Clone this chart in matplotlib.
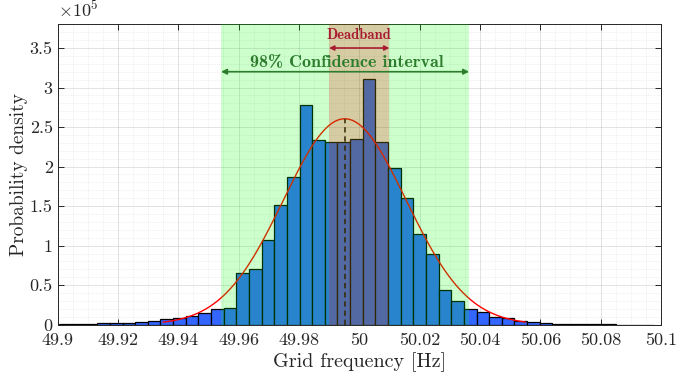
#!/usr/bin/env python3

from matplotlib import pyplot as plt
from matplotlib.ticker import FuncFormatter, MultipleLocator, NullFormatter
import numpy as np
import matplotlib


# Histogram of grid frequency (probability density, bins of equal width)
bin_start = 49.9006
bin_width = 0.00419
density = np.array([
    0.003, 0.005, 0.008, 0.020, 0.017, 0.021, 0.034, 0.047, 0.072, 0.081,
    0.110, 0.150, 0.200, 0.205, 0.651, 0.705, 1.069, 1.512, 1.874, 2.778,
    2.330, 2.305, 2.305, 2.347, 3.110, 2.305, 1.984, 1.604, 1.152, 0.895,
    0.443, 0.304, 0.203, 0.165, 0.100, 0.080, 0.047, 0.034, 0.025, 0.013,
    0.009, 0.006, 0.004, 0.003, 0.002, 0.002, 0.001,
]) * 1e5

# Normal fit
fit_mean = 49.9952
fit_std = 0.0203
fit_peak = 2.605e5
fit_range = (49.935, 50.055)

# Intervals
conf_int = (49.9542, 50.0364)
deadband = (49.990, 50.010)


def setup():
    matplotlib.rcParams.update({
        "font.family": "serif",
        "font.serif": ["cmr10"],
        "mathtext.fontset": "cm",
        "axes.unicode_minus": False,
        "axes.formatter.use_mathtext": True,
    })


def main():
    setup()
    fig = plt.figure(figsize=(6.8, 3.79), dpi=100)
    ax = fig.add_axes([0.0846, 0.1433, 0.8874, 0.7926])

    edges = bin_start + bin_width * np.arange(len(density))
    ax.bar(edges, density, width=bin_width, align="edge",
           color=(0.2, 0.4, 1.0), edgecolor="black", linewidth=0.9,
           zorder=1)

    xs = np.linspace(fit_range[0], fit_range[1], 300)
    ys = fit_peak * np.exp(-0.5 * ((xs - fit_mean) / fit_std) ** 2)
    ax.plot(xs, ys, color="red", lw=1.0, zorder=2)
    ax.plot([fit_mean, fit_mean], [0, fit_peak], color="black", lw=1.1,
            ls=(0, (3.5, 2.5)), zorder=2)

    ax.axvspan(*conf_int, color=(0, 1, 0), alpha=0.2, lw=0, zorder=3)
    ax.axvspan(*deadband, color=(1, 0, 0), alpha=0.2, lw=0, zorder=3)

    green = "#2E7D2E"
    crimson = "#A81C32"
    ax.annotate("", xy=(conf_int[0], 3.2e5), xytext=(conf_int[1], 3.2e5),
                arrowprops=dict(arrowstyle="<|-|>", color=green, lw=1.2,
                                mutation_scale=8, shrinkA=0, shrinkB=0),
                zorder=5)
    ax.text(sum(conf_int) / 2 + 0.0005, 3.32e5, "98% Confidence interval",
            family="cmb10", size=13, color=green, ha="center",
            va="center", zorder=5)
    ax.annotate("", xy=(deadband[0], 3.5e5), xytext=(deadband[1], 3.5e5),
                arrowprops=dict(arrowstyle="<|-|>", color=crimson, lw=1.2,
                                mutation_scale=7, shrinkA=0, shrinkB=0),
                zorder=5)
    ax.text(sum(deadband) / 2, 3.66e5, "Deadband", family="cmb10",
            size=10.5, color=crimson, ha="center", va="center", zorder=5)

    ax.set_xlim(49.9, 50.1)
    ax.set_ylim(0, 3.8e5)
    ax.set_xticks(np.round(np.arange(49.9, 50.1001, 0.02), 2))
    ax.set_yticks(np.arange(0, 3.51e5, 0.5e5))
    ax.xaxis.set_minor_locator(MultipleLocator(0.005))
    ax.yaxis.set_minor_locator(MultipleLocator(0.1e5))
    ax.xaxis.set_major_formatter(FuncFormatter(lambda v, p: "%g" % v))
    ax.yaxis.set_major_formatter(
        FuncFormatter(lambda v, p: "%g" % round(v / 1e5, 2)))
    ax.xaxis.set_minor_formatter(NullFormatter())

    ax.tick_params(which="major", direction="in", top=True, right=True,
                   length=4.5, width=0.7, color="#262626", labelsize=13,
                   labelcolor="#262626")
    ax.tick_params(which="minor", length=0)
    ax.tick_params(axis="x", pad=6)
    for s in ax.spines.values():
        s.set_color("#262626")
        s.set_linewidth(0.7)

    ax.set_axisbelow(True)
    ax.grid(which="major", color="#262626", alpha=0.15, lw=0.6)
    ax.grid(which="minor", color="#262626", alpha=0.10, lw=0.5,
            ls=(0, (1.5, 1.5)))

    ax.text(0.0, 1.015, r"$\times 10^{5}$", transform=ax.transAxes,
            size=13, color="#262626", ha="left", va="bottom")

    ax.set_xlabel("Grid frequency [Hz]", size=14.5, color="#262626",
                  labelpad=3)
    ax.set_ylabel("Probability density", size=14, color="#262626",
                  labelpad=1)

    fig.savefig("out.png", dpi=100)


if __name__ == "__main__":
    main()
